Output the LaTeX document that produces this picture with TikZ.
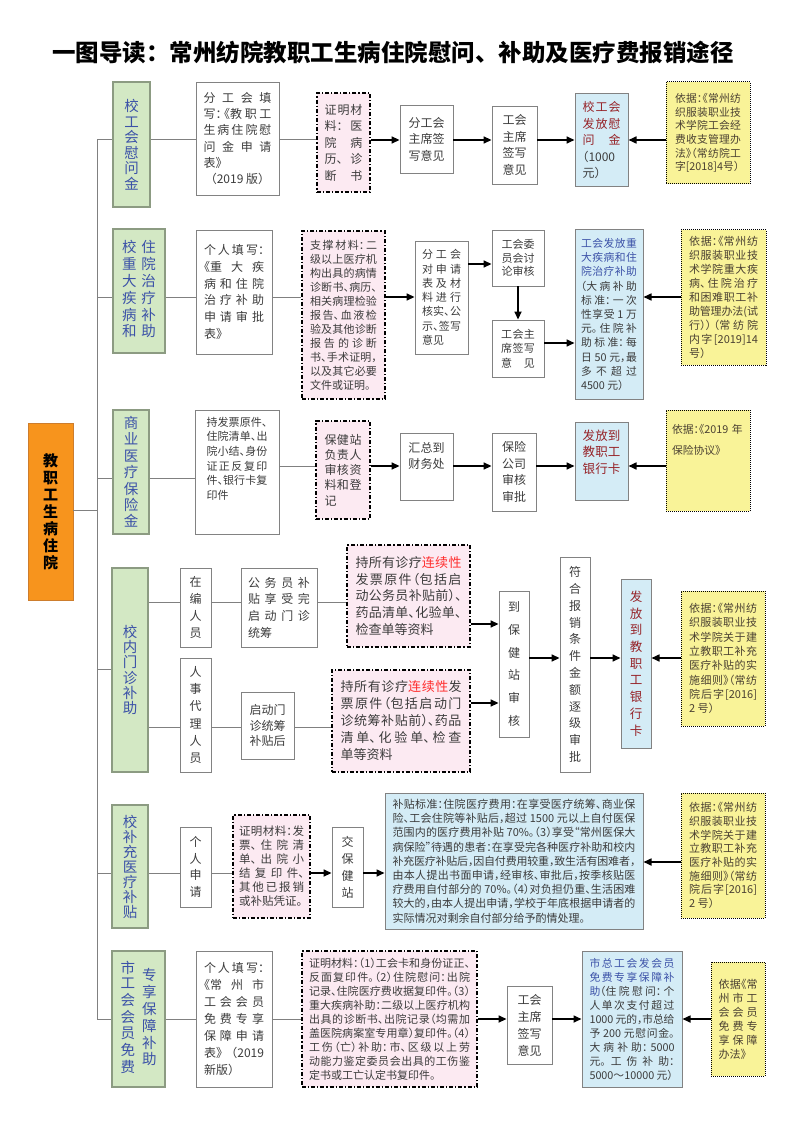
\documentclass[tikz,border=0pt]{standalone}
\usepackage{fontspec}
\setmainfont{Noto Sans CJK SC}[RawFeature=+halt]
\newfontfamily\ttlfont{Noto Sans CJK SC}
\usetikzlibrary{arrows.meta}
\XeTeXlinebreaklocale "zh"
\XeTeXlinebreakskip=0pt plus 2pt minus 0.6pt
\tolerance=10000
\hbadness=10000
\newcommand{\brk}{\linebreak}
\definecolor{boxgreen}{RGB}{211,232,196}
\definecolor{greenline}{RGB}{140,155,130}
\definecolor{ablue}{RGB}{60,82,168}
\definecolor{boxpink}{RGB}{252,234,242}
\definecolor{boxblue}{RGB}{212,236,246}
\definecolor{boxyellow}{RGB}{249,243,152}
\definecolor{orangef}{RGB}{247,148,29}
\definecolor{orangeline}{RGB}{205,125,45}
\definecolor{dred}{RGB}{150,35,40}
\definecolor{lred}{RGB}{255,45,45}
\definecolor{boxgray}{RGB}{130,130,130}
\definecolor{linegray}{RGB}{128,128,128}
\definecolor{txtgray}{RGB}{60,60,60}
\definecolor{ytext}{RGB}{75,65,50}
\begin{document}
\begin{tikzpicture}[x=1pt, y=-1pt,
  every node/.style={inner xsep=2pt, inner ysep=3pt, text=txtgray},
  fs/.style 2 args={font=\fontsize{#1}{#2}\selectfont},
  sz/.style 2 args={minimum width=#1pt, minimum height=#2pt},
  jt/.style={align=justify, text width=#1pt},
  topal/.style 2 args={text height=#1pt, text depth=#2pt},
  wbox/.style={draw=boxgray, line width=0.9pt, fill=white},
  gbox/.style={draw=greenline, line width=1.2pt, fill=boxgreen, text=ablue, align=center, fs={14.5}{15.5}},
  pbox/.style={draw=black, line width=1.2pt, dash pattern=on 4pt off 2pt on 1.2pt off 2pt, fill=boxpink},
  bbox/.style={draw=boxgray, line width=1pt, fill=boxblue},
  ybox/.style={draw=black, line width=1pt, densely dotted, fill=boxyellow, text=ytext},
  ln/.style={draw=linegray, line width=1pt},
  arr/.style={draw=black, line width=1.6pt, -{Triangle[length=8pt, width=7pt]}}]
  \fill[white] (0,0) rectangle (799,1131);
  \useasboundingbox (0,0) rectangle (799,1131);
  % row lines
  \coordinate (trk) at (97,0);
  \coordinate (r0) at (0,510);
  \coordinate (r1) at (0,140);
  \coordinate (r2) at (0,297);
  \coordinate (r2a) at (0,264);
  \coordinate (r2b) at (0,343);
  \coordinate (r3) at (0,478);
  \coordinate (r3b) at (0,466);
  \coordinate (r4) at (0,669);
  \coordinate (r4a) at (0,602);
  \coordinate (r4b) at (0,727);
  \coordinate (r4c) at (0,624);
  \coordinate (r4d) at (0,703);
  \coordinate (r4e) at (0,658);
  \coordinate (r5) at (0,873);
  \coordinate (r5b) at (0,862);
  \coordinate (r6) at (0,1019);
  % title and main box
  \node[fs={23.5}{26}, text=black] (ttl) at (393,52) {\ttlfont\bfseries 一图导读：常州纺院教职工生病住院慰问、补助及医疗费报销途径};
  \node[sz={45}{177}, draw=orangeline, line width=0.8pt, fill=orangef, text=black, align=center, font={\fontsize{15}{17}\selectfont\bfseries}] (main) at (50.5,511.5) {教\\职\\工\\生\\病\\住\\院};
  % row 1
  \node[gbox, sz={37}{125}] (g1) at (131.5,144.5) {校\\工\\会\\慰\\问\\金};
  \node[wbox, sz={83}{113}, jt=68, fs={12}{16.3}] (w1) at (237.5,138.5) {分工会填\brk 写：《教职工\brk 生病住院慰\brk 问金申请\brk 表》\par\hspace*{\fill}（2019 版）\hspace*{\fill}};
  \node[pbox, sz={53}{99}, jt=38, fs={12}{16.5}] (pk1) at (343.5,142.5) {证明材\brk 料：医\brk 院病\brk 历、诊\brk 断\hfill 书};
  \node[wbox, sz={53}{68}, align=center, fs={12}{16.5}] (fw1) at (426.5,139) {分工会\\主席签\\写意见};
  \node[wbox, sz={45}{78}, align=center, fs={12}{16.8}] (z1) at (514.5,145) {工会\\主席\\签写\\意见};
  \node[bbox, sz={53}{93}, jt=38, fs={12}{16.5}] (b1) at (601.5,140.5) {\leavevmode{\color{dred}校工会\brk 发放慰\brk 问金}\brk （1000\brk 元）};
  \node[ybox, sz={84}{102}, jt=66, fs={10.8}{13.7}] (y1) at (708,133) {依据：《常州纺\brk 织服装职业技\brk 术学院工会经\brk 费收支管理办\brk 法》（常纺院工\brk 字[2018]4号）};
  % row 2
  \node[gbox, sz={52}{124}] (g2) at (139,291) {\begin{tabular}{@{}c@{\hspace{5pt}}c@{}}校&住\\重&院\\大&治\\疾&疗\\病&补\\和&助\end{tabular}};
  \node[wbox, sz={76}{124}, jt=60, fs={12}{16.7}] (w2) at (234,292) {个人填写：\brk 《重大疾\brk 病和住院\brk 治疗补助\brk 申请审批\brk 表》};
  \node[pbox, sz={83}{168}, jt=67, fs={11}{14}] (pk2) at (343.5,315) {支撑材料：二\brk 级以上医疗机\brk 构出具的病情\brk 诊断书、病历、\brk 相关病理检验\brk 报告、血液检\brk 验及其他诊断\brk 报告的诊断\brk 书、手术证明，\brk 以及其它必要\brk 文件或证明。};
  \node[wbox, sz={53}{113}, jt=39, fs={11}{14.3}] (fg2) at (441.5,297.5) {分工会\brk 对申请\brk 表及材\brk 料进行\brk 核实、公\brk 示、签写\brk 意见};
  \node[wbox, sz={52}{56}, align=center, fs={11}{13.5}] (wy2) at (518,258) {工会委\\员会讨\\论审核};
  \node[wbox, sz={52}{57}, jt=34, fs={11}{14.5}] (zx2) at (518,348.5) {工会主\brk 席签写\brk 意\hfill 见};
  \node[bbox, sz={68}{169}, jt=56, fs={10.8}{14.2}] (b2) at (609,314.5) {\leavevmode{\color{ablue}工会发放重\brk 大疾病和住\brk 院治疗补助}\brk （大病补助\brk 标准：一次\brk 性享受 1 万\brk 元。住院补\brk 助标准：每\brk 日 50 元，最\brk 多不超过\brk 4500 元）};
  \node[ybox, sz={85}{135}, jt=69, fs={11}{14}] (y2) at (723.5,297.5) {依据：《常州纺\brk 织服装职业技\brk 术学院重大疾\brk 病、住院治疗\brk 和困难职工补\brk 助管理办法(试\brk 行））（常纺院\brk 内字[2019]14\brk 号）};
  % row 3
  \node[gbox, sz={36}{124}, fs={14.5}{16.4}] (g3) at (131,472) {商\\业\\医\\疗\\保\\险\\金};
  \node[wbox, sz={84}{124}, jt=61, fs={11}{14.7}, topal={13}{105}] (w3) at (237,472) {持发票原件、\brk 住院清单、出\brk 院小结、身份\brk 证正反复印\brk 件、银行卡复\brk 印件};
  \node[pbox, sz={54}{98}, jt=37, fs={12}{15.3}] (pk3) at (343,470) {保健站\brk 负责人\brk 审核资\brk 料和登\brk 记};
  \node[wbox, sz={53}{67}, text width=38pt, align=center, fs={12}{15.5}, topal={16.5}{44.5}] (hz3) at (426.5,466.5) {汇总到\\财务处};
  \node[wbox, sz={44}{78}, align=center, fs={12}{16.5}] (bx3) at (514,472) {保险\\公司\\审核\\审批};
  \node[bbox, sz={53}{78}, text width=40pt, align=center, text=dred, fs={12.5}{16.5}, topal={15}{57}] (b3) at (601.5,461) {发放到\\教职工\\银行卡};
  \node[ybox, sz={84}{101}, text width=72pt, align=left, fs={10.8}{21.5}, topal={20}{75}] (y3) at (708,460.5) {依据：《2019 年\\保险协议》};
  % row 4
  \node[gbox, sz={36}{204}, fs={14.5}{15.3}] (g4) at (130,670) {校\\内\\门\\诊\\补\\助};
  \node[wbox, sz={31}{79}, align=center, fs={12}{16.7}] (zb4) at (195.5,607.5) {在\\编\\人\\员};
  \node[wbox, sz={31}{114}, align=center, fs={12}{17.2}] (rs4) at (195.5,715) {人\\事\\代\\理\\人\\员};
  \node[wbox, sz={76}{79}, jt=62, fs={12}{16.7}] (gw4) at (279,607.5) {公务员补\brk 贴享受完\brk 启动门诊\brk 统筹};
  \node[pbox, sz={123}{102}, jt=106, fs={13}{16.7}] (pk4a) at (408.5,596) {持所有诊疗{\color{lred}连续性}\brk 发票原件（包括启\brk 动公务员补贴前）、\brk 药品清单、化验单、\brk 检查单等资料};
  \node[wbox, sz={53}{67}, align=center, fs={12}{15.5}] (qd4) at (267.5,725.5) {启动门\\诊统筹\\补贴后};
  \node[pbox, sz={138}{102}, jt=121, fs={13}{17}] (pk4b) at (401,721) {持所有诊疗{\color{lred}连续性}发\brk 票原件（包括启动门\brk 诊统筹补贴前）、药品\brk 清单、化验单、检查\brk 单等资料};
  \node[wbox, sz={30}{146}, align=center, fs={12}{22.7}] (bj4) at (514,664) {到\\保\\健\\站\\审\\核};
  \node[wbox, sz={30}{215}, align=center, fs={12}{16.8}] (fh4) at (575,664.5) {符\\合\\报\\销\\条\\件\\金\\额\\逐\\级\\审\\批};
  \node[bbox, sz={30}{169}, align=center, text=dred, fs={12.5}{16.7}] (b4) at (636,663.5) {发\\放\\到\\教\\职\\工\\银\\行\\卡};
  \node[ybox, sz={84}{135}, jt=68, fs={11}{14.3}] (y4) at (723,658.5) {依据：《常州纺\brk 织服装职业技\brk 术学院关于建\brk 立教职工补充\brk 医疗补贴的实\brk 施细则》（常纺\brk 院后字[2016]\brk 2 号）};
  % row 5
  \node[gbox, sz={36}{123}, fs={14.5}{15}] (g5) at (130,866.5) {校\\补\\充\\医\\疗\\补\\贴};
  \node[wbox, sz={31}{80}, align=center, fs={12}{16.7}] (gr5) at (195.5,867) {个\\人\\申\\请};
  \node[pbox, sz={77}{103}, jt=65, fs={11.5}{14}] (pk5) at (271.5,866.5) {证明材料：发\brk 票、住院清\brk 单、出院小\brk 结复印件、\brk 其他已报销\brk 或补贴凭证。};
  \node[wbox, sz={31}{80}, align=center, fs={12}{17}] (jb5) at (347.5,867) {交\\保\\健\\站};
  \node[bbox, sz={258}{136}, jt=243, fs={11}{14.2}] (b5) at (514,861) {补贴标准：住院医疗费用：在享受医疗统筹、商业保\brk 险、工会住院等补贴后，超过 1500 元以上自付医保\brk 范围内的医疗费用补贴 70\%。（3）享受“常州医保大\brk 病保险”待遇的患者：在享受完各种医疗补助和校内\brk 补充医疗补贴后，因自付费用较重，致生活有困难者，\brk 由本人提出书面申请，经审核、审批后，按季核贴医\brk 疗费用自付部分的 70\%。（4）对负担仍重、生活困难\brk 较大的，由本人提出申请，学校于年底根据申请者的\brk 实际情况对剩余自付部分给予酌情处理。};
  \node[ybox, sz={84}{125}, jt=68, fs={11}{13.7}] (y5) at (723,855.5) {依据：《常州纺\brk 织服装职业技\brk 术学院关于建\brk 立教职工补充\brk 医疗补贴的实\brk 施细则》（常纺\brk 院后字[2016]\brk 2 号）};
  % row 6
  \node[gbox, sz={53}{136}] (g6) at (138.5,1019) {\begin{tabular}[c]{@{}c@{}}市\\工\\会\\会\\员\\免\\费\end{tabular}\hspace{7pt}\begin{tabular}[c]{@{}c@{}}专\\享\\保\\障\\补\\助\end{tabular}};
  \node[wbox, sz={76}{136}, jt=60, fs={12}{17}] (w6) at (234,1019) {个人填写：\brk 《常州市\brk 工会会员\brk 免费专享\brk 保障申请\brk 表》（2019\brk 新版）};
  \node[pbox, sz={175}{136}, jt=161, fs={11}{14}] (pk6) at (389.5,1019) {证明材料：（1）工会卡和身份证正、\brk 反面复印件。（2）住院慰问：出院\brk 记录、住院医疗费收据复印件。（3）\brk 重大疾病补助：二级以上医疗机构\brk 出具的诊断书、出院记录（均需加\brk 盖医院病案室专用章）复印件。（4）\brk 工伤（亡）补助：市、区级以上劳\brk 动能力鉴定委员会出具的工伤鉴\brk 定书或工亡认定书复印件。};
  \node[wbox, sz={45}{78}, align=center, fs={12}{17}] (zh6) at (529.5,1025) {工会\\主席\\签写\\意见};
  \node[bbox, sz={100}{136}, jt=85, fs={10.8}{14}] (b6) at (632,1019) {\leavevmode{\color{ablue}市总工会发会员\brk 免费专享保障补\brk 助}（住院慰问：个\brk 人单次支付超过\brk 1000 元的，市总给\brk 予 200 元慰问金。\brk 大病补助：5000\brk 元。工伤补助：\brk 5000～10000 元）};
  \node[ybox, sz={54}{114}, jt=39, fs={11}{14}] (y6) at (738,1019) {依据《常\brk 州市工\brk 会会员\brk 免费专\brk 享保障\brk 办法》};
  % connectors
  \draw[ln] (trk |- r1) -- (trk |- r6);
  \draw[ln] (main.east |- r0) -- (trk |- r0);
  \foreach \a/\b/\r in {trk/g1/r1, g1/w1/r1, w1/pk1/r1, trk/g2/r2, g2/w2/r2, w2/pk2/r2, trk/g3/r3, g3/w3/r3, w3/pk3/r3b, trk/g4/r4, g4/zb4/r4a, zb4/gw4/r4a, gw4/pk4a/r4a, g4/rs4/r4b, rs4/qd4/r4b, qd4/pk4b/r4b, trk/g5/r5, g5/gr5/r5, gr5/pk5/r5, trk/g6/r6, g6/w6/r6, w6/pk6/r6}
    \draw[ln] (\a.east |- \r) -- (\b.west |- \r);
  \foreach \a/\b/\r in {pk1/fw1/r1, fw1/z1/r1, z1/b1/r1, pk2/fg2/r2, fg2/wy2/r2a, zx2/b2/r2b, pk3/hz3/r3b, hz3/bx3/r3b, bx3/b3/r3b, pk4a/bj4/r4c, pk4b/bj4/r4d, bj4/fh4/r4e, fh4/b4/r4e, pk5/jb5/r5, jb5/b5/r5, pk6/zh6/r6, zh6/b6/r6}
    \draw[arr] (\a.east |- \r) -- (\b.west |- \r);
  \foreach \a/\b/\r in {y1/b1/r1, y2/b2/r2, y3/b3/r3b, y4/b4/r4e, y5/b5/r5b, y6/b6/r6}
    \draw[arr] (\a.west |- \r) -- (\b.east |- \r);
  \draw[arr] (wy2.south) -- (zx2.north);
\end{tikzpicture}
\end{document}
